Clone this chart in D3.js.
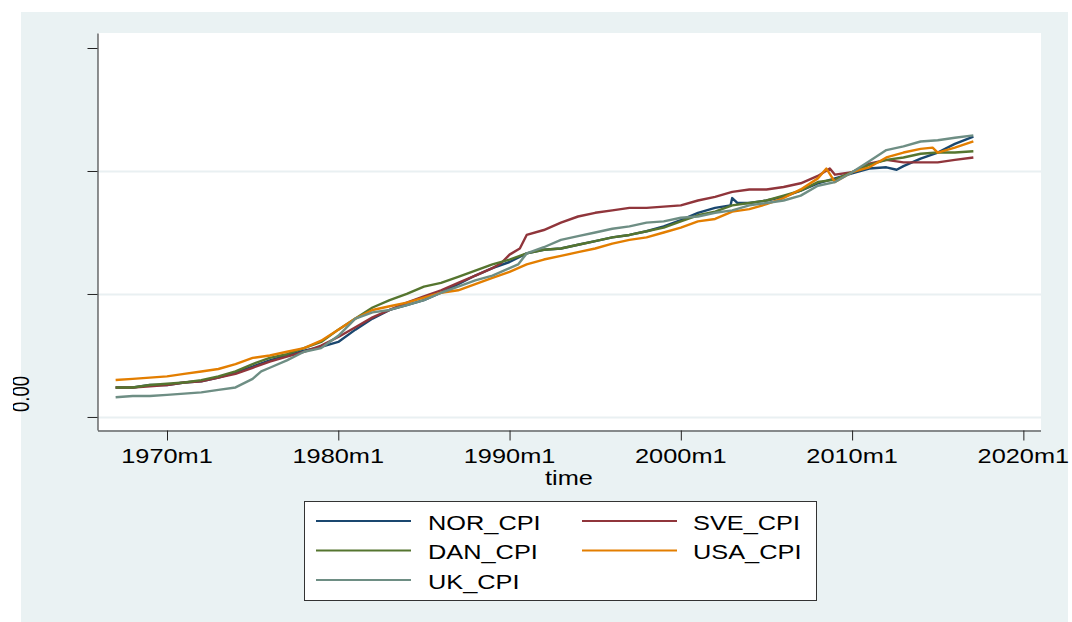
<!DOCTYPE html>
<html>
<head>
<meta charset="utf-8">
<script src="https://cdn.jsdelivr.net/npm/d3@7"></script>
<style>
  html, body { margin: 0; padding: 0; background: #ffffff; }
  svg { display: block; }
  text { font-family: "Liberation Sans", Arial, sans-serif; fill: #000; }
</style>
</head>
<body>
<svg id="chart" width="1072" height="622"></svg>
<script>
// ---- data (decimal year, value) ----
const NOR_CPI = [[1967,0.24],[1968,0.24],[1969,0.26],[1970,0.26],[1971,0.28],[1972,0.29],[1973,0.32],[1974,0.36],[1975,0.41],[1976,0.46],[1977,0.50],[1978,0.54],[1979,0.57],[1980,0.61],[1981,0.71],[1982,0.80],[1983,0.87],[1984,0.91],[1985,0.95],[1986,1.01],[1987,1.08],[1988,1.15],[1989,1.21],[1990,1.26],[1991,1.33],[1992,1.36],[1993,1.37],[1994,1.40],[1995,1.43],[1996,1.46],[1997,1.48],[1998,1.51],[1999,1.55],[2000,1.60],[2001,1.66],[2002,1.70],[2002.9,1.72],[2003.0,1.78],[2003.3,1.74],[2004,1.74],[2005,1.76],[2006,1.79],[2007,1.84],[2008,1.90],[2009,1.94],[2010,1.98],[2011,2.02],[2012,2.03],[2012.6,2.01],[2013,2.04],[2014,2.10],[2015,2.15],[2016,2.22],[2017.08,2.28]];
const SVE_CPI = [[1967,0.24],[1968,0.24],[1969,0.25],[1970,0.26],[1971,0.28],[1972,0.29],[1973,0.32],[1974,0.35],[1975,0.40],[1976,0.45],[1977,0.49],[1978,0.53],[1979,0.58],[1980,0.65],[1981,0.73],[1982,0.81],[1983,0.87],[1984,0.93],[1985,0.98],[1986,1.03],[1987,1.09],[1988,1.15],[1989,1.21],[1989.5,1.25],[1990,1.32],[1990.6,1.37],[1991,1.48],[1992,1.52],[1993,1.58],[1994,1.63],[1995,1.66],[1996,1.68],[1997,1.70],[1998,1.70],[1999,1.71],[2000,1.72],[2001,1.76],[2002,1.79],[2003,1.83],[2004,1.85],[2005,1.85],[2006,1.87],[2007,1.90],[2008,1.96],[2008.7,2.02],[2009,1.97],[2010,1.99],[2011,2.06],[2012,2.09],[2013,2.07],[2014,2.07],[2015,2.07],[2016,2.09],[2017.08,2.11]];
const DAN_CPI = [[1967,0.24],[1968,0.24],[1969,0.26],[1970,0.27],[1971,0.28],[1972,0.30],[1973,0.33],[1974,0.37],[1975,0.43],[1976,0.48],[1977,0.51],[1978,0.56],[1979,0.61],[1980,0.71],[1981,0.80],[1982,0.89],[1983,0.95],[1984,1.00],[1985,1.06],[1986,1.09],[1987,1.14],[1988,1.19],[1989,1.24],[1990,1.28],[1991,1.33],[1992,1.36],[1993,1.37],[1994,1.40],[1995,1.43],[1996,1.46],[1997,1.48],[1998,1.51],[1999,1.54],[2000,1.59],[2001,1.64],[2002,1.67],[2003,1.72],[2004,1.74],[2005,1.76],[2006,1.80],[2007,1.84],[2008,1.91],[2009,1.93],[2010,1.99],[2011,2.05],[2012,2.09],[2013,2.11],[2014,2.14],[2015,2.15],[2016,2.15],[2017.08,2.16]];
const USA_CPI = [[1967,0.30],[1968,0.31],[1969,0.32],[1970,0.33],[1971,0.35],[1972,0.37],[1973,0.39],[1974,0.43],[1975,0.48],[1976,0.50],[1977,0.53],[1978,0.56],[1979,0.62],[1980,0.71],[1981,0.80],[1982,0.87],[1983,0.90],[1984,0.93],[1985,0.97],[1986,1.01],[1987,1.03],[1988,1.08],[1989,1.13],[1990,1.18],[1991,1.24],[1992,1.28],[1993,1.31],[1994,1.34],[1995,1.37],[1996,1.41],[1997,1.44],[1998,1.46],[1999,1.50],[2000,1.54],[2001,1.59],[2002,1.61],[2003,1.67],[2004,1.69],[2005,1.73],[2006,1.78],[2007,1.85],[2008,1.94],[2008.5,2.02],[2009,1.91],[2010,1.99],[2011,2.03],[2012,2.11],[2013,2.15],[2014,2.18],[2014.7,2.19],[2015,2.15],[2016,2.19],[2017.08,2.24]];
const UK_CPI = [[1967,0.16],[1968,0.17],[1969,0.17],[1970,0.18],[1971,0.19],[1972,0.20],[1973,0.22],[1974,0.24],[1975,0.31],[1975.5,0.37],[1976,0.40],[1977,0.46],[1978,0.53],[1979,0.56],[1980,0.66],[1981,0.80],[1982,0.85],[1983,0.87],[1984,0.91],[1985,0.95],[1986,1.01],[1987,1.06],[1988,1.11],[1989,1.15],[1990,1.21],[1990.5,1.24],[1991,1.33],[1992,1.38],[1993,1.44],[1994,1.47],[1995,1.50],[1996,1.53],[1997,1.55],[1998,1.58],[1999,1.59],[2000,1.62],[2001,1.63],[2002,1.66],[2003,1.68],[2004,1.72],[2005,1.74],[2006,1.76],[2007,1.80],[2008,1.88],[2009,1.91],[2010,1.99],[2011,2.08],[2012,2.17],[2013,2.20],[2014,2.24],[2015,2.25],[2016,2.27],[2017.08,2.29]];

const seriesNames = ["NOR_CPI", "SVE_CPI", "DAN_CPI", "USA_CPI", "UK_CPI"];
const seriesData = [NOR_CPI, SVE_CPI, DAN_CPI, USA_CPI, UK_CPI];
const seriesColors = ["#1a476f", "#90353b", "#55752f", "#e37e00", "#6e8e84"];

const xTickValues = [1970, 1980, 1990, 2000, 2010, 2020];
const xTickLabels = ["1970m1", "1980m1", "1990m1", "2000m1", "2010m1", "2020m1"];
const yTickValues = [0, 1, 2, 3];
const yTickLabels = ["0.00", "", "", ""];
const yGridValues = [0, 1, 2];
const xTitle = "time";

// ---- layout ----
const plot = { left: 98, right: 1041, top: 33, bottom: 430 };
const STRETCH = 1.3;
const FS = 19.5;

const svg = d3.select("#chart");

svg.append("rect").attr("x", 21).attr("y", 12).attr("width", 1047).attr("height", 610)
  .attr("fill", "#eaf2f3");
svg.append("rect").attr("x", plot.left).attr("y", plot.top)
  .attr("width", plot.right - plot.left).attr("height", plot.bottom - plot.top)
  .attr("fill", "#ffffff");

const x = d3.scaleLinear().domain([1966, 2021]).range([98.5, 1040.5]);
const y = d3.scaleLinear().domain([-0.106, 3.122]).range([plot.bottom, plot.top]);

// gridlines
svg.append("g").selectAll("line").data(yGridValues).join("line")
  .attr("x1", plot.left).attr("x2", plot.right)
  .attr("y1", d => Math.round(y(d)) + 0.5).attr("y2", d => Math.round(y(d)) + 0.5)
  .attr("stroke", "#e9f0f2").attr("stroke-width", 2);

// clips
const defs = svg.append("defs");
defs.append("clipPath").attr("id", "pc").append("rect")
  .attr("x", plot.left).attr("y", plot.top)
  .attr("width", plot.right - plot.left).attr("height", plot.bottom - plot.top);
defs.append("clipPath").attr("id", "lc").append("rect")
  .attr("x", 13).attr("y", 300).attr("width", 80).attr("height", 140);

const line = d3.line().x(d => x(d[0])).y(d => y(d[1])).curve(d3.curveLinear);
const lg = svg.append("g").attr("clip-path", "url(#pc)");
seriesData.forEach((s, i) => {
  lg.append("path").datum(s)
    .attr("d", line)
    .attr("fill", "none")
    .attr("stroke", seriesColors[i])
    .attr("stroke-width", 2.4)
    .attr("stroke-linejoin", "round");
});

// axes
const yAxis = d3.axisLeft(y).tickValues(yTickValues).tickFormat("").tickSize(10).tickSizeOuter(0);
const gy = svg.append("g").attr("transform", `translate(${plot.left - 0.5},0)`).call(yAxis);
gy.selectAll("path, line").attr("stroke", "#222");

const xAxis = d3.axisBottom(x).tickValues(xTickValues).tickFormat("").tickSize(10).tickSizeOuter(0);
const gx = svg.append("g").attr("transform", `translate(0,${plot.bottom + 0.5})`).call(xAxis);
gx.select(".domain").attr("d", `M${plot.left},0.5H${plot.right}`);
gx.selectAll("path, line").attr("stroke", "#222");

// x tick labels (stretched horizontally like the source)
svg.append("g").selectAll("g").data(xTickValues).join("g")
  .attr("transform", d => `translate(${x(d)},463) scale(${STRETCH},1)`)
  .append("text").attr("text-anchor", "middle").attr("font-size", FS)
  .text((d, i) => xTickLabels[i]);

// x title
svg.append("g").attr("transform", `translate(569,485) scale(${STRETCH},1)`)
  .append("text").attr("text-anchor", "middle").attr("font-size", FS).text(xTitle);

// y tick labels (rotated, clipped at the left like the source)
svg.append("g").attr("clip-path", "url(#lc)")
  .selectAll("g").data(yTickValues.filter((d, i) => yTickLabels[i] !== "")).join("g")
  .attr("transform", d => `translate(29,${y(d) - 23}) scale(${STRETCH},1) rotate(-90)`)
  .append("text").attr("text-anchor", "middle").attr("font-size", 18.5)
  .text(d => yTickLabels[yTickValues.indexOf(d)]);

// legend
const leg = svg.append("g");
leg.append("rect").attr("x", 304.5).attr("y", 501.5).attr("width", 512).attr("height", 99)
  .attr("fill", "#ffffff").attr("stroke", "#333").attr("stroke-width", 1);
seriesNames.forEach((name, i) => {
  const col = i % 2, row = Math.floor(i / 2);
  const ly = 521 + row * 29.5;
  leg.append("line")
    .attr("x1", 316 + col * 266).attr("x2", 411 + col * 266)
    .attr("y1", ly).attr("y2", ly)
    .attr("stroke", seriesColors[i]).attr("stroke-width", 2);
  leg.append("g").attr("transform", `translate(${428 + col * 265},${ly + 8.5}) scale(${STRETCH},1)`)
    .append("text").attr("font-size", FS).text(name);
});
</script>
</body>
</html>
